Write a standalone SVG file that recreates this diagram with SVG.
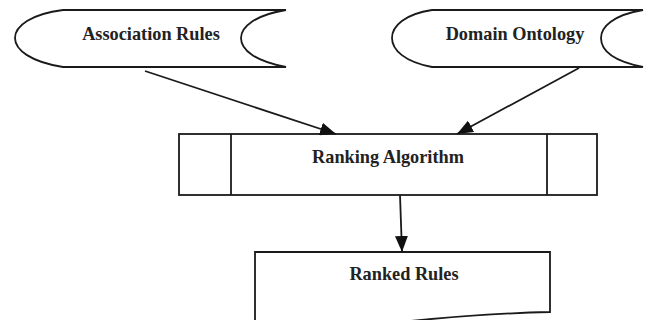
<svg xmlns="http://www.w3.org/2000/svg" width="647" height="320" viewBox="0 0 647 320">
<style>
.s{fill:#fff;stroke:#1a1a1a;stroke-width:1.8}
.t{font-family:"Liberation Serif","Times New Roman",serif;font-weight:bold;font-size:18.3px;fill:#222;text-anchor:middle}
.c{stroke:#1a1a1a;stroke-width:1.8;fill:none}
</style>
<defs>
<marker id="ah" viewBox="0 0 16 13" refX="16" refY="6.5" markerWidth="16" markerHeight="13" markerUnits="userSpaceOnUse" orient="auto">
<path d="M0,0 L16,6.5 L0,13 Z" fill="#111"/>
</marker>
</defs>
<g id="association-rules">
<path class="s" d="M63,10 L286,10 C255,15 241,27 241,38 C241,50 255,61 286,67 L63,67 C31,62 15,50 15,38 C15,26 31,14 63,10 Z"/>
<text class="t" x="151" y="40">Association Rules</text>
</g>
<g id="domain-ontology">
<path class="s" d="M432,10 L643,10 C613,15 601,27 601,38 C601,50 613,61 643,67 L432,67 C405,62 392,50 392,38 C392,26 405,14 432,10 Z"/>
<text class="t" x="515" y="40">Domain Ontology</text>
</g>
<g id="ranking-algorithm">
<rect class="s" x="179" y="134" width="418" height="61"/>
<line class="c" x1="231" y1="134" x2="231" y2="195"/>
<line class="c" x1="547" y1="134" x2="547" y2="195"/>
<text class="t" x="388" y="163">Ranking Algorithm</text>
</g>
<g id="ranked-rules">
<path class="s" d="M255,252 L550,252 L550,312 C500,313 450,317 400,322 L255,336 Z"/>
<text class="t" x="404" y="280">Ranked Rules</text>
</g>
<g id="connectors">
<line class="c" x1="145" y1="71" x2="336" y2="134" marker-end="url(#ah)"/>
<line class="c" x1="579" y1="68" x2="457" y2="134" marker-end="url(#ah)"/>
<line class="c" x1="400" y1="195" x2="402" y2="252" marker-end="url(#ah)"/>
</g>
</svg>
